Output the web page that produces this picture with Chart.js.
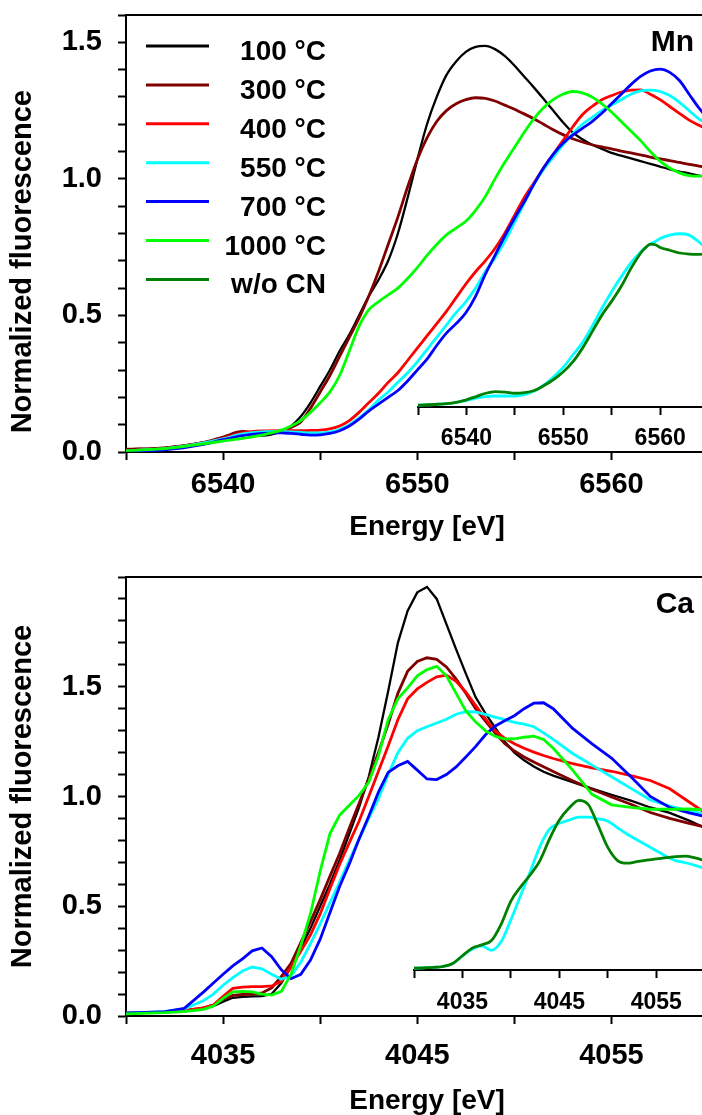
<!DOCTYPE html>
<html>
<head>
<meta charset="utf-8">
<script src="https://cdn.jsdelivr.net/npm/chart.js"></script>
<style>
  body { margin: 0; width: 702px; height: 1115px; overflow: hidden; background: #fff; }
  .panel { position: absolute; left: 0; width: 728px; height: 560px; }
  canvas { position: absolute; left: 0; top: 0; }
</style>
</head>
<body>
<div class="panel" style="top:0">
  <canvas id="mnMain" width="728" height="560"></canvas>
  <canvas id="mnInset" width="318" height="280" style="left:410px;top:187px"></canvas>
</div>
<div class="panel" style="top:560px">
  <canvas id="caMain" width="728" height="558"></canvas>
  <canvas id="caInset" width="322" height="257" style="left:406px;top:213px"></canvas>
</div>
<script>
// ---- data ----
const seriesLabels = ['100 °C', '300 °C', '400 °C', '550 °C', '700 °C', '1000 °C', 'w/o CN'];
const seriesColors = ['#000000', '#800000', '#ff0000', '#00ffff', '#0000ff', '#00ff00', '#008000'];

const yTickLabels = [0, 0.5, 1, 1.5];
const mnTickLabels = [6540, 6550, 6560];
const caTickLabels = [4035, 4045, 4055];

// Mn K-edge, main panel
const mnEnergy = [6535, 6537, 6539, 6540, 6541, 6542,
  6543, 6543.5, 6544, 6544.5, 6545, 6545.5, 6546, 6546.5, 6547, 6547.5,
  6548, 6548.5, 6549, 6549.5, 6550, 6550.5, 6551, 6551.5, 6552, 6552.5,
  6553, 6553.5, 6554, 6554.5, 6555, 6555.5, 6556, 6556.5, 6557, 6557.5,
  6558, 6558.5, 6559, 6559.5, 6560, 6560.5, 6561, 6561.5, 6562, 6562.5,
  6563, 6563.5, 6564, 6564.5, 6565, 6565.5, 6566];
const mn100 = [0.010, 0.015, 0.035, 0.050, 0.072, 0.060,
  0.075, 0.095, 0.13, 0.18, 0.24, 0.30, 0.37, 0.43, 0.50, 0.57,
  0.63, 0.70, 0.80, 0.93, 1.07, 1.20, 1.30, 1.38, 1.43, 1.465,
  1.483, 1.487, 1.475, 1.45, 1.415, 1.375, 1.335, 1.293, 1.25, 1.207,
  1.17, 1.145, 1.125, 1.11, 1.095, 1.085, 1.075, 1.065, 1.055, 1.045,
  1.035, 1.027, 1.02, 1.012, 1.007, 1.003, 1.0];
const mn300 = [0.010, 0.015, 0.035, 0.055, 0.075, 0.065,
  0.075, 0.09, 0.11, 0.16, 0.22, 0.28, 0.35, 0.42, 0.49, 0.57,
  0.66, 0.76, 0.86, 0.97, 1.07, 1.15, 1.21, 1.25, 1.275, 1.29,
  1.297, 1.295, 1.285, 1.27, 1.255, 1.238, 1.22, 1.20, 1.18, 1.162,
  1.147, 1.135, 1.125, 1.117, 1.11, 1.102, 1.095, 1.088, 1.08, 1.073,
  1.067, 1.06, 1.053, 1.047, 1.04, 1.035, 1.03];
const mn400 = [0.005, 0.012, 0.033, 0.050, 0.070, 0.077,
  0.078, 0.078, 0.078, 0.079, 0.080, 0.085, 0.095, 0.115, 0.145, 0.18,
  0.215, 0.255, 0.29, 0.335, 0.38, 0.425, 0.47, 0.515, 0.565, 0.615,
  0.66, 0.70, 0.745, 0.80, 0.865, 0.93, 0.985, 1.04, 1.09, 1.14,
  1.19, 1.235, 1.265, 1.29, 1.305, 1.318, 1.325, 1.326, 1.31, 1.29,
  1.265, 1.24, 1.215, 1.196, 1.18, 1.17, 1.16];
const mn550 = [0.005, 0.012, 0.033, 0.048, 0.066, 0.074,
  0.075, 0.074, 0.072, 0.070, 0.070, 0.073, 0.083, 0.10, 0.125, 0.155,
  0.19, 0.22, 0.255, 0.29, 0.33, 0.375, 0.42, 0.465, 0.51, 0.55,
  0.60, 0.66, 0.71, 0.77, 0.84, 0.91, 0.98, 1.035, 1.08, 1.125,
  1.165, 1.20, 1.225, 1.25, 1.27, 1.29, 1.31, 1.322, 1.325, 1.32,
  1.305, 1.28, 1.25, 1.22, 1.20, 1.19, 1.18];
const mn700 = [0.004, 0.008, 0.028, 0.045, 0.060, 0.068,
  0.070, 0.068, 0.065, 0.062, 0.063, 0.068, 0.078, 0.095, 0.12, 0.15,
  0.175, 0.20, 0.225, 0.26, 0.30, 0.34, 0.39, 0.435, 0.47, 0.51,
  0.57, 0.65, 0.72, 0.79, 0.855, 0.915, 0.98, 1.04, 1.09, 1.13,
  1.16, 1.185, 1.21, 1.24, 1.275, 1.31, 1.345, 1.375, 1.395, 1.402,
  1.39, 1.36, 1.31, 1.26, 1.22, 1.20, 1.18];
const mn1000 = [0.005, 0.012, 0.030, 0.040, 0.050, 0.062,
  0.080, 0.095, 0.115, 0.145, 0.18, 0.22, 0.28, 0.37, 0.46, 0.52,
  0.55, 0.575, 0.60, 0.635, 0.675, 0.72, 0.76, 0.795, 0.82, 0.845,
  0.885, 0.935, 1.0, 1.06, 1.115, 1.17, 1.22, 1.26, 1.29, 1.31,
  1.32, 1.315, 1.30, 1.275, 1.245, 1.21, 1.175, 1.14, 1.10, 1.065,
  1.04, 1.022, 1.012, 1.01, 1.01, 1.01, 1.012];

// Mn inset (550 °C vs. without CN)
const mnInsetEnergy = [6535, 6537, 6538.5,
  6540, 6541, 6542, 6543, 6544, 6545, 6546, 6547, 6548, 6549,
  6550, 6551, 6552, 6553, 6554, 6555, 6556, 6557, 6558,
  6558.5, 6559, 6559.5, 6560,
  6561, 6562, 6563, 6564, 6565, 6566, 6567];
const mnInset550 = [0.007, 0.010, 0.014,
  0.024, 0.032, 0.038, 0.040, 0.040, 0.040, 0.045, 0.058, 0.080, 0.110,
  0.145, 0.19, 0.235, 0.295, 0.36, 0.42, 0.475, 0.525, 0.565,
  0.58, 0.593, 0.602, 0.613,
  0.625, 0.63, 0.625, 0.60, 0.57, 0.55, 0.53];
const mnInsetWoCN = [0.007, 0.010, 0.014,
  0.026, 0.038, 0.050, 0.056, 0.054, 0.050, 0.052, 0.060, 0.078, 0.100,
  0.128, 0.165, 0.215, 0.275, 0.335, 0.385, 0.44, 0.505, 0.56,
  0.58, 0.592, 0.59, 0.58,
  0.57, 0.56, 0.556, 0.555, 0.556, 0.557, 0.558];

// Ca K-edge, main panel
const caEnergy = [4030, 4032, 4033,
  4034, 4034.5, 4035, 4035.5, 4036, 4036.5, 4037, 4037.5, 4038, 4038.5,
  4039, 4039.5, 4040, 4040.5, 4041, 4041.5, 4042, 4042.5, 4043, 4043.5,
  4044, 4044.5, 4045, 4045.5, 4046, 4046.5, 4047, 4047.5, 4048, 4048.5,
  4049, 4049.5, 4050, 4050.5, 4051, 4051.5, 4052,
  4053, 4054, 4055, 4056, 4057, 4058, 4059, 4060, 4061];
const ca100 = [0.013, 0.018, 0.024,
  0.035, 0.045, 0.065, 0.083, 0.087, 0.089, 0.091, 0.10, 0.15, 0.223,
  0.31, 0.40, 0.50, 0.60, 0.71, 0.83, 0.95, 1.09, 1.27, 1.48,
  1.70, 1.845, 1.93, 1.955, 1.90, 1.785, 1.67, 1.56, 1.453, 1.38,
  1.315, 1.25, 1.20, 1.165, 1.137, 1.113, 1.095,
  1.065, 1.036, 1.008, 0.981, 0.95, 0.925, 0.89, 0.85, 0.82];
const ca300 = [0.013, 0.018, 0.025,
  0.037, 0.05, 0.075, 0.094, 0.098, 0.10, 0.105, 0.128, 0.18, 0.24,
  0.335, 0.43, 0.53, 0.636, 0.74, 0.856, 0.968, 1.08, 1.20, 1.33,
  1.47, 1.57, 1.615, 1.632, 1.625, 1.59, 1.535, 1.47, 1.40, 1.345,
  1.29, 1.242, 1.207, 1.18, 1.157, 1.135, 1.114,
  1.072, 1.033, 0.998, 0.965, 0.927, 0.90, 0.878, 0.857, 0.84];
const ca400 = [0.013, 0.018, 0.025,
  0.037, 0.05, 0.09, 0.126, 0.132, 0.134, 0.134, 0.137, 0.158, 0.223,
  0.295, 0.37, 0.465, 0.58, 0.69, 0.79, 0.887, 1.00, 1.115, 1.23,
  1.35, 1.445, 1.49, 1.52, 1.545, 1.553, 1.525, 1.475, 1.415, 1.355,
  1.30, 1.265, 1.24, 1.22, 1.202, 1.187, 1.173,
  1.15, 1.13, 1.115, 1.095, 1.073, 1.035, 0.975, 0.915, 0.87];
const ca550 = [0.013, 0.02, 0.032,
  0.07, 0.10, 0.14, 0.175, 0.205, 0.223, 0.215, 0.19, 0.167, 0.183,
  0.245, 0.33, 0.42, 0.515, 0.61, 0.71, 0.806, 0.90, 0.99, 1.10,
  1.20, 1.265, 1.30, 1.318, 1.335, 1.352, 1.375, 1.387, 1.385, 1.374,
  1.362, 1.35, 1.338, 1.33, 1.318, 1.29, 1.26,
  1.196, 1.143, 1.09, 1.037, 0.984, 0.956, 0.935, 0.915, 0.90];
const ca700 = [0.013, 0.02, 0.035,
  0.11, 0.15, 0.19, 0.228, 0.26, 0.297, 0.31, 0.27, 0.21, 0.17,
  0.19, 0.255, 0.35, 0.47, 0.59, 0.693, 0.806, 0.91, 1.02, 1.11,
  1.14, 1.16, 1.12, 1.08, 1.077, 1.10, 1.135, 1.18, 1.227, 1.28,
  1.32, 1.345, 1.368, 1.40, 1.425, 1.427, 1.40,
  1.31, 1.24, 1.175, 1.09, 1.0, 0.95, 0.925, 0.905, 0.89];
const ca1000 = [0.01, 0.015, 0.02,
  0.03, 0.045, 0.08, 0.11, 0.112, 0.11, 0.10, 0.095, 0.112, 0.19,
  0.32, 0.466, 0.66, 0.83, 0.915, 0.96, 1.005, 1.065, 1.185, 1.35,
  1.445, 1.495, 1.55, 1.578, 1.593, 1.55, 1.47, 1.39, 1.34, 1.30,
  1.275, 1.262, 1.263, 1.27, 1.275, 1.26, 1.22,
  1.12, 1.01, 0.962, 0.95, 0.942, 0.942, 0.943, 0.938, 0.93];

// Ca inset (550 °C vs. without CN)
const caInsetEnergy = [4030, 4031, 4032, 4033, 4034, 4035, 4036, 4037, 4038, 4039, 4040,
  4041, 4042, 4043, 4044, 4045, 4046, 4047, 4048, 4049, 4050, 4051,
  4052, 4053, 4054, 4055, 4056, 4057, 4058, 4059, 4060, 4061, 4062];
const caInset550 = [0.008, 0.01, 0.012, 0.016, 0.03, 0.065, 0.095, 0.11, 0.09, 0.13, 0.23,
  0.34, 0.45, 0.565, 0.645, 0.67, 0.685, 0.698, 0.698, 0.69, 0.68, 0.65,
  0.62, 0.595, 0.57, 0.545, 0.52, 0.50, 0.49, 0.478, 0.465, 0.455, 0.445];
const caInsetWoCN = [0.008, 0.01, 0.012, 0.016, 0.03, 0.065, 0.10, 0.115, 0.135, 0.21, 0.315,
  0.38, 0.435, 0.50, 0.60, 0.685, 0.74, 0.775, 0.755, 0.66, 0.56, 0.50,
  0.488, 0.495, 0.502, 0.508, 0.513, 0.518, 0.52, 0.512, 0.50, 0.49, 0.48];

// ---- chart setup ----
const FONT = '"Liberation Sans", Arial, Helvetica, sans-serif';
Chart.defaults.font.family = FONT;
Chart.defaults.font.weight = 'bold';
Chart.defaults.color = '#000';

const pts = (xs, ys) => xs.map((x, i) => ({ x, y: ys[i] }));

function series(i, xs, ys, smooth) {
  return {
    label: seriesLabels[i],
    data: pts(xs, ys),
    borderColor: seriesColors[i],
    borderWidth: i === 0 ? 2.3 : 2.8,
    pointRadius: 0,
    fill: false,
    tension: 0,
    cubicInterpolationMode: smooth ? 'monotone' : 'default',
    order: 10 - i
  };
}

// fixed box sizes so the plot areas land where the figure has them
function fixBox(s, size) {
  if (s.isHorizontal()) s.height = size; else s.width = size;
  s.paddingLeft = s.paddingRight = s.paddingTop = s.paddingBottom = 0;
}

function xScale(min, max, labels, o) {
  return {
    type: 'linear', position: 'bottom', min, max,
    ticks: {
      stepSize: 5, autoSkip: false, maxRotation: 0, includeBounds: false,
      font: { size: o.size, weight: 'bold', lineHeight: 1 }, padding: o.pad, color: '#000',
      callback: v => labels.includes(v) ? String(v) : ''
    },
    grid: { drawOnChartArea: false, tickLength: 8, tickWidth: 2, tickColor: '#000' },
    border: { color: '#000', width: 2 },
    title: o.title
      ? { display: true, text: o.title, color: '#000', font: { size: 28, weight: 'bold' }, padding: { top: 0, bottom: o.titlePad } }
      : { display: false },
    afterFit: s => fixBox(s, o.height)
  };
}

function yScale(max, title) {
  return {
    min: 0, max,
    ticks: {
      stepSize: 0.1, autoSkip: false, includeBounds: false, padding: 16, color: '#000',
      font: { size: 29, weight: 'bold', lineHeight: 1 },
      callback: v => yTickLabels.includes(Math.round(v * 10) / 10) ? v.toFixed(1) : ''
    },
    grid: { drawOnChartArea: false, tickLength: 8, tickWidth: 2, tickColor: '#000' },
    border: { color: '#000', width: 2 },
    title: { display: true, text: title, color: '#000', font: { size: 29, weight: 'bold' }, padding: { top: 6, bottom: 0 } },
    afterFit: s => fixBox(s, 126)
  };
}

const topFrame = h => ({
  position: 'top', ticks: { display: false }, grid: { display: false },
  border: { color: '#000', width: 2 },
  afterFit: s => fixBox(s, h)
});

const cornerLabel = text => ({
  id: 'cornerLabel',
  afterDraw(chart) {
    const ctx = chart.ctx;
    ctx.save();
    ctx.font = 'bold 30px ' + FONT;
    ctx.fillStyle = '#000';
    ctx.textAlign = 'right';
    ctx.fillText(text, 694, chart.chartArea.top + 36);
    ctx.restore();
  }
});

const seriesLegend = {
  id: 'seriesLegend',
  afterDraw(chart) {
    const ctx = chart.ctx;
    ctx.save();
    ctx.font = 'bold 28px ' + FONT;
    ctx.textAlign = 'right';
    seriesLabels.forEach((label, i) => {
      const y = 46 + i * 38.9;
      ctx.strokeStyle = seriesColors[i];
      ctx.lineWidth = 3;
      ctx.beginPath();
      ctx.moveTo(146, y);
      ctx.lineTo(209, y);
      ctx.stroke();
      ctx.fillStyle = '#000';
      ctx.fillText(label, 326, y + 14);
    });
    ctx.restore();
  }
};

const baseOptions = (scales, padLeft) => ({
  responsive: false,
  animation: false,
  layout: { padding: { left: padLeft, right: 0, top: 0, bottom: 0 }, autoPadding: false },
  plugins: { legend: { display: false }, tooltip: { enabled: false } },
  scales
});

// Mn main
new Chart(document.getElementById('mnMain'), {
  type: 'line',
  data: {
    datasets: [
      series(0, mnEnergy, mn100, true),
      series(1, mnEnergy, mn300, true),
      series(2, mnEnergy, mn400, true),
      series(3, mnEnergy, mn550, true),
      series(4, mnEnergy, mn700, true),
      series(5, mnEnergy, mn1000, true)
    ]
  },
  options: baseOptions({
    x: xScale(6535, 6566, mnTickLabels, { size: 29, pad: 10, height: 108, title: 'Energy [eV]', titlePad: 16 }),
    xTop: topFrame(15),
    y: yScale(1.6, 'Normalized fluorescence       ')
  }, 0),
  plugins: [seriesLegend, cornerLabel('Mn')]
});

// Mn inset
new Chart(document.getElementById('mnInset'), {
  type: 'line',
  data: {
    datasets: [
      series(3, mnInsetEnergy, mnInset550, true),
      series(6, mnInsetEnergy, mnInsetWoCN, true)
    ]
  },
  options: baseOptions({
    x: xScale(6535, 6567, mnTickLabels, { size: 23, pad: 12, height: 60 }),
    y: { display: false, min: 0, max: 0.8 }
  }, 8)
});

// Ca main
new Chart(document.getElementById('caMain'), {
  type: 'line',
  data: {
    datasets: [
      series(0, caEnergy, ca100, false),
      series(1, caEnergy, ca300, false),
      series(2, caEnergy, ca400, false),
      series(3, caEnergy, ca550, false),
      series(4, caEnergy, ca700, false),
      series(5, caEnergy, ca1000, false)
    ]
  },
  options: baseOptions({
    x: xScale(4030, 4061, caTickLabels, { size: 29, pad: 17, height: 102, title: 'Energy [eV]', titlePad: 0 }),
    xTop: topFrame(17),
    y: yScale(2.0, 'Normalized fluorescence')
  }, 0),
  plugins: [cornerLabel('Ca')]
});

// Ca inset
new Chart(document.getElementById('caInset'), {
  type: 'line',
  data: {
    datasets: [
      series(3, caInsetEnergy, caInset550, true),
      series(6, caInsetEnergy, caInsetWoCN, true)
    ]
  },
  options: baseOptions({
    x: xScale(4030, 4062.4, caTickLabels, { size: 23, pad: 13, height: 60 }),
    y: { display: false, min: 0, max: 0.9 }
  }, 8)
});
</script>
</body>
</html>
